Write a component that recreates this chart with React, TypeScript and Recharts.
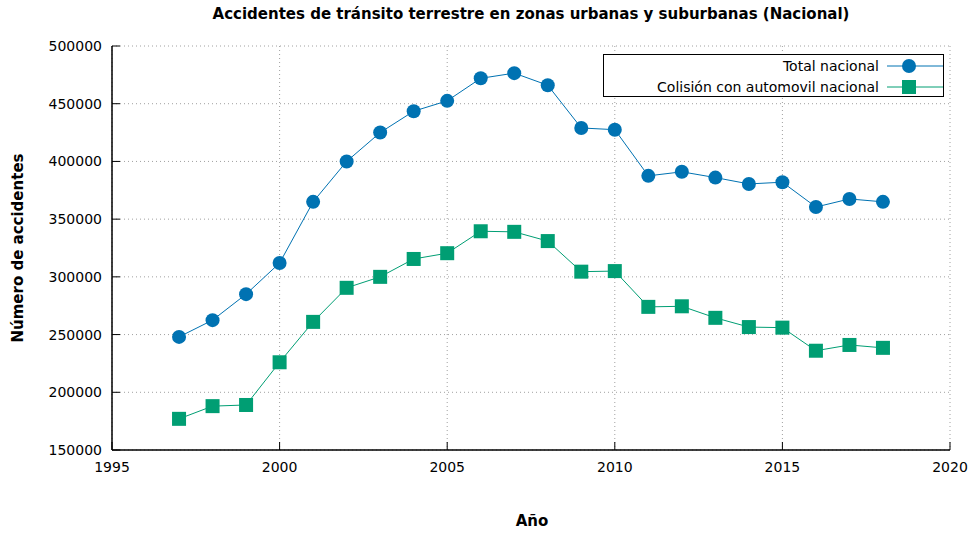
import React from "react";
import { CartesianGrid, Line, LineChart, XAxis, YAxis } from "recharts";

const years = [
  1997, 1998, 1999, 2000, 2001, 2002, 2003, 2004, 2005, 2006, 2007, 2008,
  2009, 2010, 2011, 2012, 2013, 2014, 2015, 2016, 2017, 2018,
];
const totalNacional = [
  248000, 262500, 285000, 312000, 365000, 400000, 425000, 443500, 452500,
  472000, 476500, 466000, 429000, 427500, 387500, 391000, 386000, 380500,
  382000, 360500, 367500, 365000,
];
const colisionAutomovil = [
  177000, 188000, 189000, 226000, 261000, 290500, 300000, 315500, 320500,
  339500, 339000, 331000, 304500, 305000, 274000, 274500, 264500, 256500,
  256000, 236000, 241000, 238500,
];
const xTicks = [1995, 2000, 2005, 2010, 2015, 2020];
const yTicks = [150000, 200000, 250000, 300000, 350000, 400000, 450000, 500000];

const BLUE = "#0072b2";
const GREEN = "#009e73";
const FONT = "'DejaVu Sans', Verdana, sans-serif";

const data = years.map((y, i) => ({
  year: y,
  total: totalNacional[i],
  colision: colisionAutomovil[i],
}));

const SquareDot = (props: any) => {
  const { cx, cy } = props;
  if (cx == null || cy == null) return null;
  return <rect x={cx - 7} y={cy - 7} width={14} height={14} fill={GREEN} />;
};

const CircleDot = (props: any) => {
  const { cx, cy } = props;
  if (cx == null || cy == null) return null;
  return <circle cx={cx} cy={cy} r={7} fill={BLUE} />;
};

function LegendBox() {
  const row = (label: string, color: string, square: boolean) => (
    <div style={{ display: "flex", alignItems: "center", justifyContent: "flex-end", height: 21 }}>
      <span style={{ marginRight: 8 }}>{label}</span>
      <svg width={56} height={16}>
        <line x1={0} y1={8} x2={56} y2={8} stroke={color} strokeWidth={1} />
        {square ? (
          <rect x={15} y={1} width={14} height={14} fill={color} />
        ) : (
          <circle cx={22} cy={8} r={7} fill={color} />
        )}
      </svg>
    </div>
  );
  return (
    <div
      style={{
        position: "absolute",
        left: 603,
        top: 54,
        width: 341,
        height: 43,
        border: "1px solid #000",
        background: "#fff",
        fontFamily: FONT,
        fontSize: 14,
        color: "#000",
        boxSizing: "border-box",
        paddingTop: 0,
      }}
    >
      {row("Total nacional", BLUE, false)}
      {row("Colisión con automovil nacional", GREEN, true)}
    </div>
  );
}

export default function App() {
  const tick = { fill: "#000", fontSize: 14, fontFamily: FONT };
  return (
    <div style={{ position: "absolute", left: 0, top: 0, width: 975, height: 533, background: "#fff" }}>
      <LineChart
        width={975}
        height={533}
        data={data}
        margin={{ top: 46, right: 25, bottom: 0, left: 0 }}
        style={{ position: "absolute", left: 0, top: 0 }}
      >
        <CartesianGrid stroke="#a0a0a0" strokeDasharray="1 3" />
        <XAxis
          dataKey="year"
          type="number"
          domain={[1995, 2020]}
          ticks={xTicks}
          tick={tick}
          height={83}
          tickSize={-8}
          tickMargin={20}
          axisLine={{ stroke: "#000", strokeWidth: 1.5 }}
          tickLine={{ stroke: "#000" }}
        />
        <XAxis
          xAxisId="top"
          dataKey="year"
          type="number"
          orientation="top"
          domain={[1995, 2020]}
          ticks={xTicks}
          tick={false}
          height={0}
          tickSize={-8}
          axisLine={{ stroke: "#000", strokeWidth: 1.5 }}
          tickLine={{ stroke: "#000" }}
        />
        <YAxis
          type="number"
          domain={[150000, 500000]}
          ticks={yTicks}
          tick={tick}
          width={112}
          tickSize={-8}
          tickMargin={18}
          axisLine={{ stroke: "#000", strokeWidth: 1.5 }}
          tickLine={{ stroke: "#000" }}
        />
        <YAxis
          yAxisId="right"
          orientation="right"
          type="number"
          domain={[150000, 500000]}
          ticks={yTicks}
          tick={false}
          width={0}
          tickSize={-8}
          axisLine={{ stroke: "#000", strokeWidth: 1.5 }}
          tickLine={{ stroke: "#000" }}
        />
        <Line
          dataKey="total"
          stroke={BLUE}
          strokeWidth={1}
          dot={<CircleDot />}
          activeDot={false}
          isAnimationActive={false}
        />
        <Line
          dataKey="colision"
          stroke={GREEN}
          strokeWidth={1}
          dot={<SquareDot />}
          activeDot={false}
          isAnimationActive={false}
        />
      </LineChart>
      <LegendBox />
      <div
        style={{
          position: "absolute",
          left: 112,
          width: 838,
          top: 5,
          textAlign: "center",
          fontFamily: FONT,
          fontWeight: "bold",
          fontSize: 15,
        }}
      >
        Accidentes de tránsito terrestre en zonas urbanas y suburbanas (Nacional)
      </div>
      <div
        style={{
          position: "absolute",
          left: 532 - 50,
          width: 100,
          top: 512,
          textAlign: "center",
          fontFamily: FONT,
          fontWeight: "bold",
          fontSize: 15,
        }}
      >
        Año
      </div>
      <div
        style={{
          position: "absolute",
          left: 18 - 120,
          top: 248 - 10,
          width: 240,
          height: 20,
          lineHeight: "20px",
          textAlign: "center",
          transform: "rotate(-90deg)",
          fontFamily: FONT,
          fontWeight: "bold",
          fontSize: 15,
        }}
      >
        Número de accidentes
      </div>
    </div>
  );
}
